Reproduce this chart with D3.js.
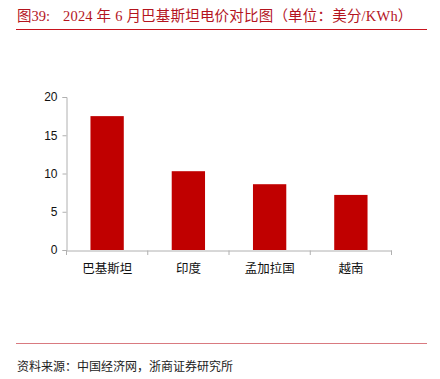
<!DOCTYPE html>
<html><head><meta charset="utf-8">
<script src="https://cdn.jsdelivr.net/npm/d3@7/dist/d3.min.js"></script>
<style>body{margin:0;background:#fff}svg{display:block}</style>
</head><body>
<script>
const categories = ["巴基斯坦", "印度", "孟加拉国", "越南"];
const values = [17.5, 10.3, 8.6, 7.2];
const yTicks = [0, 5, 10, 15, 20];
const titleLabel = "图39:";
const titleText = "2024 年 6 月巴基斯坦电价对比图（单位：美分/KWh）";
const sourceText = "资料来源：中国经济网，浙商证券研究所";

const W = 440, H = 379;
const svg = d3.select("body").append("svg").attr("width", W).attr("height", H);
const red = "#c00000";
const serif = "'Liberation Serif','Noto Sans CJK SC',serif";
const sans = "'Liberation Sans','Noto Sans CJK SC',sans-serif";

// title
svg.append("text").attr("x", 17).attr("y", 21)
  .attr("font-family", serif).attr("font-size", 14.5).attr("fill", "#b4141e")
  .text(titleLabel);
svg.append("text").attr("x", 63).attr("y", 21)
  .attr("font-family", serif).attr("font-size", 14.5).attr("fill", "#b4141e")
  .attr("letter-spacing", 0.2)
  .attr("xml:space", "preserve")
  .text(titleText);
svg.append("line").attr("x1", 16).attr("x2", 427).attr("y1", 29.5).attr("y2", 29.5)
  .attr("stroke", "#c8141e").attr("stroke-width", 1);

const x = d3.scaleBand().domain(categories).range([66.5, 391.5]).paddingInner(0.59).paddingOuter(0.295);
const y = d3.scaleLinear().domain([0, 20]).range([250, 97]);

const g = svg.append("g");
g.selectAll("rect").data(values).enter().append("rect")
  .attr("x", (d, i) => x(categories[i]))
  .attr("width", x.bandwidth())
  .attr("y", d => y(d))
  .attr("height", d => y(0) - y(d))
  .attr("fill", red);

// y axis
const ya = svg.append("g").attr("transform", "translate(66.5,0)")
  .call(d3.axisLeft(y).tickValues(yTicks).tickSize(4).tickPadding(5));
ya.select(".domain").attr("stroke", "#b0b0b0");
ya.selectAll(".tick line").attr("stroke", "#b0b0b0");
ya.selectAll("text").attr("font-family", sans).attr("font-size", 12).attr("fill", "#111");

// x axis
const xa = svg.append("g").attr("transform", "translate(0,250.5)")
  .call(d3.axisBottom(x).tickSize(0).tickPadding(14));
xa.select(".domain").attr("stroke", "#b0b0b0");
xa.selectAll("text").attr("font-family", "'Noto Sans CJK SC',sans-serif").attr("font-size", 12.5).attr("fill", "#111");
// category boundary ticks
const bounds = [0, 1, 2, 3, 4].map(i => 66.5 + i * (391.5 - 66.5) / 4);
svg.append("g").selectAll("line").data(bounds).enter().append("line")
  .attr("x1", d => d).attr("x2", d => d).attr("y1", 250.5).attr("y2", 255)
  .attr("stroke", "#b0b0b0");

// footer
svg.append("line").attr("x1", 16).attr("x2", 427).attr("y1", 343.5).attr("y2", 343.5)
  .attr("stroke", "#d97a80").attr("stroke-width", 1);
svg.append("text").attr("x", 17).attr("y", 371)
  .attr("font-family", serif).attr("font-size", 12).attr("fill", "#222")
  .text(sourceText);
</script>
</body></html>
